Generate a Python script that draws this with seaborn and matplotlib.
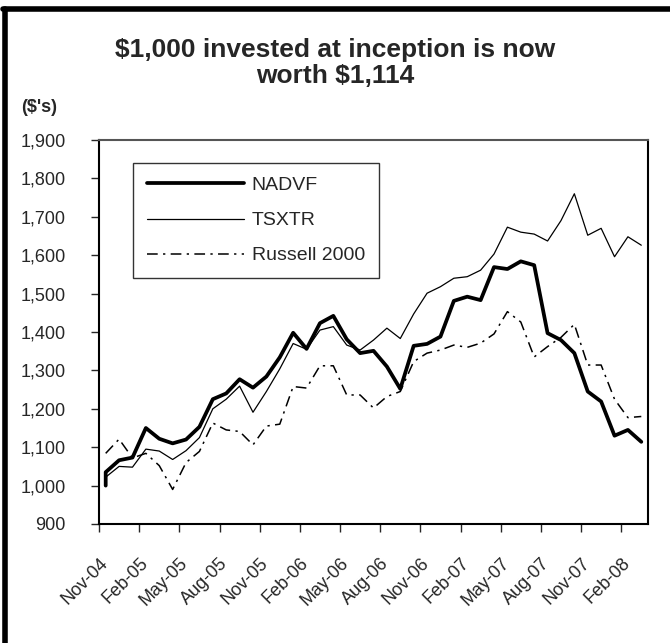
import matplotlib
matplotlib.use("Agg")

import numpy as np
import pandas as pd
import seaborn as sns
from matplotlib import pyplot as plt
from matplotlib.lines import Line2D
from matplotlib.ticker import FuncFormatter

# monthly values, Nov-04 .. Mar-08
MONTHS = list(pd.date_range("2004-11-01", periods=41, freq="MS").strftime("%b-%y"))

NADVF_START = 1000
NADVF = [1035, 1066, 1073, 1150, 1122, 1110, 1120, 1153, 1225, 1240,
         1277, 1255, 1284, 1334, 1398, 1356, 1423, 1442, 1381, 1345,
         1351, 1310, 1252, 1364, 1369, 1388, 1481, 1492, 1483, 1569,
         1564, 1584, 1574, 1397, 1379, 1345, 1245, 1219, 1130, 1145, 1114]
TSXTR = [1022, 1050, 1048, 1095, 1090, 1068, 1091, 1125, 1200, 1225,
         1259, 1191, 1245, 1304, 1370, 1355, 1405, 1414, 1366, 1353,
         1379, 1410, 1383, 1447, 1501, 1518, 1540, 1544, 1561, 1603,
         1673, 1660, 1655, 1637, 1690, 1760, 1652, 1670, 1596, 1648, 1626]
RUSSELL = [1084, 1121, 1072, 1084, 1052, 990, 1060, 1089, 1163, 1145,
           1141, 1106, 1155, 1160, 1258, 1254, 1312, 1312, 1236, 1236,
           1202, 1232, 1245, 1323, 1345, 1353, 1366, 1360, 1371, 1395,
           1453, 1426, 1335, 1362, 1386, 1420, 1314, 1314, 1225, 1177, 1180]
Y_TICKS = [900, 1000, 1100, 1200, 1300, 1400, 1500, 1600, 1700, 1800, 1900]

sns.set_style("white")
plt.rcParams["font.family"] = ["Liberation Sans", "DejaVu Sans"]

fig = plt.figure(figsize=(6.7, 6.43), dpi=100)
ax = fig.add_axes([99 / 670, 1 - 524 / 643, (648 - 99) / 670, (524 - 140) / 643])

pos = np.arange(len(MONTHS))
nadvf_frame = pd.DataFrame({"pos": np.r_[0, pos], "value": [NADVF_START] + NADVF})
tsx_frame = pd.DataFrame({"pos": pos, "value": TSXTR})
rus_frame = pd.DataFrame({"pos": pos, "value": RUSSELL})

sns.lineplot(data=nadvf_frame, x="pos", y="value", estimator=None, sort=False,
             color="black", linewidth=2.7, ax=ax)
sns.lineplot(data=tsx_frame, x="pos", y="value", estimator=None, sort=False,
             color="black", linewidth=0.9, ax=ax)
rus_style = (0, (7, 3.5, 1.5, 3.5))
sns.lineplot(data=rus_frame, x="pos", y="value", estimator=None, sort=False,
             color="black", linewidth=1.1, linestyle=rus_style, ax=ax)

ax.set_xlim(-0.5, len(MONTHS) - 0.5)
ax.set_ylim(Y_TICKS[0], Y_TICKS[-1])
ax.set_xticks(np.arange(-0.5, len(MONTHS), 3))
ax.set_xticklabels(MONTHS[::3], fontsize=13, rotation=45, ha="right", rotation_mode="anchor")
ax.set_yticks(Y_TICKS)
ax.yaxis.set_major_formatter(FuncFormatter(lambda v, _: f"{int(v):,}"))
ax.tick_params(axis="y", labelsize=13, direction="out", length=6, width=1, pad=18, left=True)
ax.tick_params(axis="x", direction="out", length=6, width=1, pad=16, bottom=True)
ax.set_xlabel("")
ax.set_ylabel("")
for side, spine in ax.spines.items():
    spine.set_color("black")
    spine.set_linewidth(1.5)
ax.spines["top"].set_color("#555555")

handles = [
    Line2D([], [], color="black", linewidth=2.7),
    Line2D([], [], color="black", linewidth=0.9),
    Line2D([], [], color="black", linewidth=1.1, linestyle=rus_style),
]
leg = ax.legend(handles, ["NADVF", "TSXTR", "Russell 2000"], loc="upper left",
                bbox_to_anchor=(0.062, 0.94), borderaxespad=0, fontsize=14,
                frameon=True, fancybox=False, edgecolor="black", handlelength=5,
                handletextpad=0.4, labelspacing=0.9, borderpad=0.7)
leg.get_frame().set_linewidth(1)

fig.text(0.5, 1 - 63 / 643, "\\$1,000 invested at inception is now\nworth \\$1,114",
         ha="center", va="center", fontsize=19, fontweight="bold", linespacing=1.1)
fig.text(21 / 670, 1 - 108 / 643, "(\\$'s)", ha="left", va="center",
         fontsize=13, fontweight="bold")

# outer frame of the exported chart
fig.add_artist(Line2D([5 / 670, 5 / 670], [0, 1 - 9 / 643], transform=fig.transFigure,
                      color="black", linewidth=4))
fig.add_artist(Line2D([3 / 670, 1], [1 - 9 / 643, 1 - 9 / 643], transform=fig.transFigure,
                      color="black", linewidth=4))

fig.savefig("out.png", dpi=100)
plt.close(fig)
